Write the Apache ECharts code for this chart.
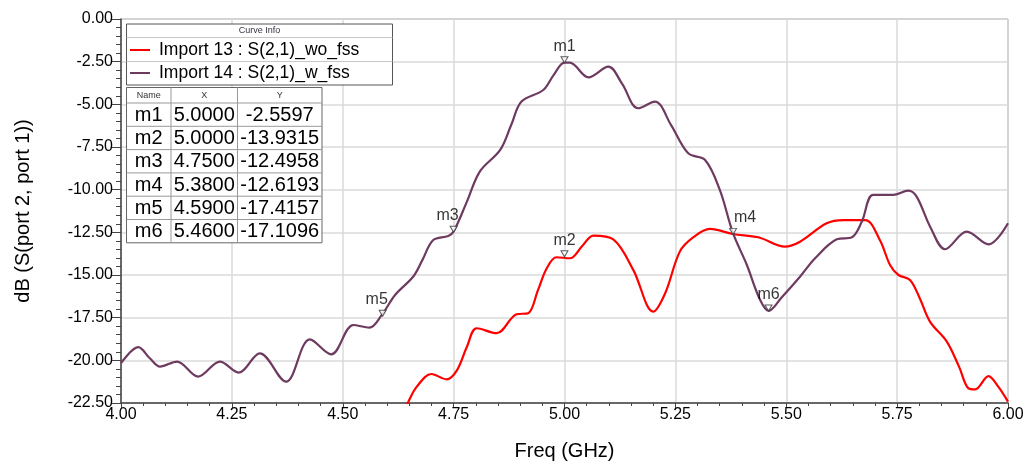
<!DOCTYPE html>
<html><head><meta charset="utf-8">
<script src="https://cdn.jsdelivr.net/npm/echarts@6/dist/echarts.min.js"></script>
<style>html,body{margin:0;padding:0;background:#fff}#c{width:1030px;height:467px}</style>
</head><body><div id="c"></div>
<script>
// ---- data ----
const seriesNames = ['Import 13 : S(2,1)_wo_fss', 'Import 14 : S(2,1)_w_fss'];
const woFss = [
  [4.640,-22.9],[4.648,-22.42],[4.667,-21.54],[4.700,-20.80],[4.734,-21.11],[4.757,-20.60],
  [4.780,-19.2],[4.802,-18.12],[4.847,-18.41],[4.892,-17.30],[4.918,-17.24],[4.940,-15.9],
  [4.960,-14.60],[4.982,-13.96],[5.012,-14.02],[5.040,-13.3],[5.065,-12.69],[5.110,-12.91],
  [5.155,-14.70],[5.200,-17.15],[5.227,-16.07],[5.260,-13.63],[5.290,-12.8],[5.328,-12.30],
  [5.380,-12.60],[5.437,-12.79],[5.497,-13.34],[5.531,-13.05],[5.591,-11.97],[5.629,-11.78],
  [5.678,-11.78],[5.711,-12.95],[5.734,-14.41],[5.753,-15.00],[5.779,-15.29],[5.800,-16.3],
  [5.824,-17.73],[5.862,-18.90],[5.890,-20.4],[5.911,-21.64],[5.926,-21.70],[5.956,-20.92],
  [5.978,-21.54],[6.000,-22.42]
];
const wFss = [
  [4.000,-20.17],[4.039,-19.23],[4.065,-19.88],[4.088,-20.37],[4.126,-20.07],[4.174,-20.95],
  [4.223,-20.07],[4.265,-20.72],[4.313,-19.59],[4.372,-21.25],[4.426,-18.77],[4.474,-19.65],
  [4.524,-17.93],[4.560,-18.08],[4.588,-17.34],[4.618,-16.17],[4.659,-15.09],[4.680,-14.1],
  [4.704,-12.95],[4.738,-12.71],[4.750,-12.45],[4.780,-10.7],[4.809,-8.94],[4.855,-7.67],
  [4.880,-6.2],[4.903,-4.84],[4.952,-4.16],[4.975,-3.3],[5.000,-2.56],[5.012,-2.56],
  [5.054,-3.42],[5.099,-2.79],[5.130,-3.8],[5.166,-5.23],[5.204,-4.84],[5.240,-6.2],
  [5.279,-7.87],[5.317,-8.26],[5.350,-10.0],[5.380,-12.55],[5.411,-14.4],[5.440,-16.4],
  [5.460,-17.1],[5.490,-16.3],[5.531,-15.10],[5.565,-14.02],[5.614,-12.91],[5.648,-12.79],
  [5.670,-11.9],[5.696,-10.31],[5.741,-10.31],[5.775,-10.06],[5.794,-10.41],[5.825,-12.2],
  [5.858,-13.49],[5.907,-12.46],[5.956,-13.20],[6.000,-11.97]
];
const markerNames = ['m1','m2','m3','m4','m5','m6'];
const markerX = [5.0000, 5.0000, 4.7500, 5.3800, 4.5900, 5.4600];
const markerY = [-2.5597, -13.9315, -12.4958, -12.6193, -17.4157, -17.1096];
const xTickMin = 4.00, xTickMax = 6.00, xTickStep = 0.25;
const yTickMin = -22.50, yTickMax = 0.00, yTickStep = 2.50;
const axisNames = ['Freq (GHz)', 'dB (S(port 2, port 1))'];
const tableHeader = ['Name', 'X', 'Y'];

// ---- chart ----
const colors = ['#ff0000', '#6e3a60'];
const FONT = 'Liberation Sans, Arial, sans-serif';
const labelShift = {m3:[-6,0], m4:[12,0], m5:[-6,0]};

const markerData = markerNames.map((n,i)=>({
  name:n, value:[markerX[i], markerY[i]],
  label:{offset: labelShift[n] || [0,0]}
}));

// Legend box + table graphics
const g = [];
const LB = {x:126.5, y:24, w:266, h:61};
g.push({type:'rect', shape:{x:LB.x,y:LB.y,width:LB.w,height:LB.h}, style:{fill:'#fff',stroke:'#555',lineWidth:1}, z:100});
g.push({type:'line', shape:{x1:LB.x,y1:37.5,x2:LB.x+LB.w,y2:37.5}, style:{stroke:'#c8c8c8',lineWidth:1}, z:101});
g.push({type:'line', shape:{x1:LB.x,y1:61.5,x2:LB.x+LB.w,y2:61.5}, style:{stroke:'#c8c8c8',lineWidth:1}, z:101});
g.push({type:'text', x:LB.x+LB.w/2, y:31, style:{text:'Curve Info', font:'9px '+FONT, fill:'#334', align:'center', verticalAlign:'middle'}, z:102});
[50,73].forEach((yy,i)=>{
  g.push({type:'line', shape:{x1:130,y1:yy,x2:150,y2:yy}, style:{stroke:colors[i],lineWidth:2}, z:102});
  g.push({type:'text', x:159, y:yy, style:{text:seriesNames[i], font:'17.5px '+FONT, fill:'#000', align:'left', verticalAlign:'middle'}, z:102});
});
const TB = {x:126.5, y:87.5};
const colW = [44.5, 66.5, 84.5];
const hdrH = 15.5, rowH = 23.3;
const tW = colW[0]+colW[1]+colW[2];
const tH = hdrH + rowH*markerNames.length;
g.push({type:'rect', shape:{x:TB.x,y:TB.y,width:tW,height:tH}, style:{fill:'#fff',stroke:'#666',lineWidth:1}, z:100});
let cx = TB.x;
const colCenters = [];
colW.forEach((w,i)=>{
  colCenters.push(cx + w/2);
  if (i>0) g.push({type:'line', shape:{x1:cx,y1:TB.y,x2:cx,y2:TB.y+tH}, style:{stroke:'#999',lineWidth:1}, z:101});
  cx += w;
});
for (let r=0; r<markerNames.length; r++){
  const yy = TB.y + hdrH + rowH*r;
  g.push({type:'line', shape:{x1:TB.x,y1:yy,x2:TB.x+tW,y2:yy}, style:{stroke:'#999',lineWidth:1}, z:101});
}
tableHeader.forEach((t,i)=>{
  g.push({type:'text', x:colCenters[i], y:TB.y+hdrH/2+0.5, style:{text:t, font:'9px '+FONT, fill:'#333', align:'center', verticalAlign:'middle'}, z:102});
});
markerNames.forEach((n,r)=>{
  const yy = TB.y + hdrH + rowH*r + rowH/2 + 0.5;
  [n, markerX[r].toFixed(4), markerY[r].toFixed(4)].forEach((t,i)=>{
    g.push({type:'text', x:colCenters[i], y:yy, style:{text:t, font:'20px '+FONT, fill:'#000', align:'center', verticalAlign:'middle'}, z:102});
  });
});

const chart = echarts.init(document.getElementById('c'), null, {renderer:'canvas'});
chart.setOption({
  backgroundColor:'#fff',
  animation:false,
  textStyle:{fontFamily:FONT},
  grid:{left:121, right:22, top:19, bottom:64, show:true, borderColor:'#888', borderWidth:1, backgroundColor:'transparent'},
  xAxis:{
    type:'value', min:xTickMin, max:xTickMax, interval:xTickStep,
    name:axisNames[0], nameLocation:'middle', nameGap:38,
    nameTextStyle:{fontSize:20, color:'#000', fontFamily:FONT},
    axisLine:{show:true, onZero:false, lineStyle:{color:'#444', width:1.5}},
    axisTick:{show:true, length:5, lineStyle:{color:'#444'}},
    minorTick:{show:true, splitNumber:5, length:3, lineStyle:{color:'#444'}},
    axisLabel:{fontSize:16, color:'#000', margin:4, formatter:v=>v.toFixed(2), fontFamily:FONT},
    splitLine:{show:true, lineStyle:{color:'#dadada', width:1.5}}
  },
  yAxis:{
    type:'value', min:yTickMin, max:yTickMax, interval:yTickStep,
    name:axisNames[1], nameLocation:'middle', nameGap:88,
    nameTextStyle:{fontSize:20, color:'#000', fontFamily:FONT},
    axisLine:{show:true, onZero:false, lineStyle:{color:'#444', width:1.5}},
    axisTick:{show:true, length:9, lineStyle:{color:'#444'}},
    minorTick:{show:true, splitNumber:5, length:5, lineStyle:{color:'#444'}},
    axisLabel:{fontSize:16, color:'#000', margin:8, formatter:v=>v.toFixed(2), fontFamily:FONT},
    splitLine:{show:true, lineStyle:{color:'#dadada', width:1.5}}
  },
  series:[
    {type:'line', name:seriesNames[0], data:woFss, smooth:0.35, showSymbol:false, clip:true,
     lineStyle:{color:colors[0], width:2.2}, z:3},
    {type:'line', name:seriesNames[1], data:wFss, smooth:0.35, showSymbol:false, clip:true,
     lineStyle:{color:colors[1], width:2.2}, z:4},
    {type:'scatter', name:'markers', data:markerData, symbol:'triangle', symbolRotate:180, symbolSize:[7,6], symbolOffset:[0,-3],
     itemStyle:{color:'#fff', borderColor:'#333', borderWidth:1}, z:10,
     label:{show:true, position:'top', distance:2, formatter:p=>p.name, fontSize:16, color:'#000', fontFamily:FONT}}
  ],
  graphic:g
});
</script></body></html>
